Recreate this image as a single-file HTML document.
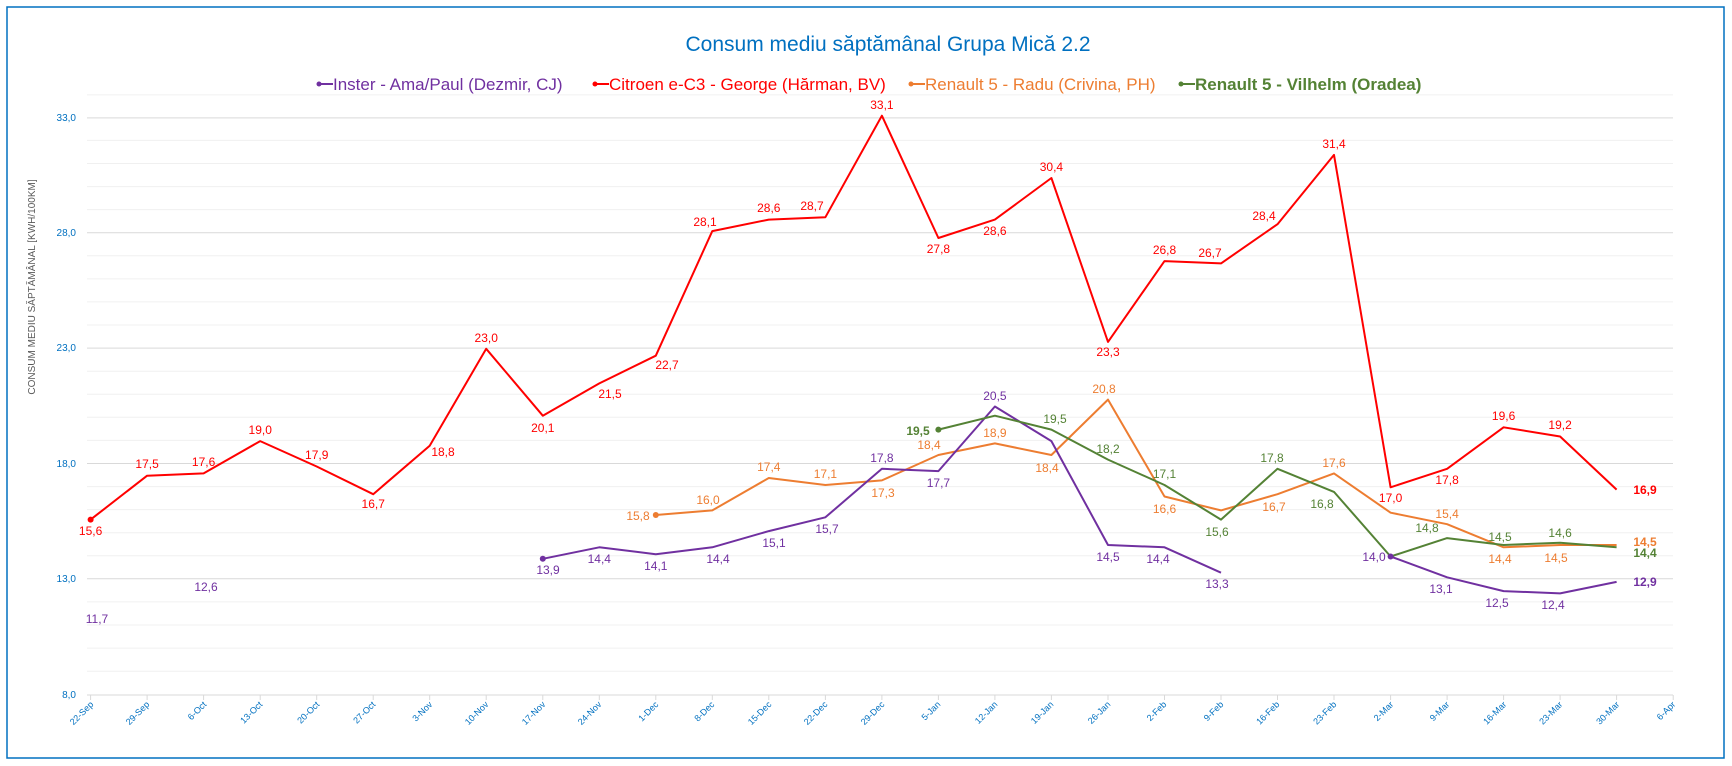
<!DOCTYPE html>
<html><head><meta charset="utf-8"><style>
html,body{margin:0;padding:0;background:#fff;}
svg{display:block;font-family:"Liberation Sans",sans-serif;}
.yl{font-size:10px;fill:#0070C0;text-anchor:end;}
.xl{font-size:9px;fill:#0070C0;text-anchor:end;}
.r{fill:#FF0000;font-size:12px;text-anchor:middle;}
.p{fill:#7030A0;font-size:12px;text-anchor:middle;}
.o{fill:#ED7D31;font-size:12px;text-anchor:middle;}
.g{fill:#548235;font-size:12px;text-anchor:middle;}
.b{font-weight:bold;}
</style></head><body>
<svg width="1732" height="766" viewBox="0 0 1732 766" xmlns="http://www.w3.org/2000/svg">
<rect x="7" y="7" width="1717" height="751" fill="#fff" stroke="#0070C0" stroke-width="1.5"/>
<text x="888" y="51" font-size="21" fill="#0070C0" text-anchor="middle">Consum mediu săptămânal Grupa Mică 2.2</text>
<g font-size="17">
<line x1="317" y1="84" x2="333" y2="84" stroke="#7030A0" stroke-width="2"/><circle cx="319" cy="84" r="2.5" fill="#7030A0"/>
<text x="333" y="90" fill="#7030A0">Inster - Ama/Paul (Dezmir, CJ)</text>
<line x1="593" y1="84" x2="609" y2="84" stroke="#FF0000" stroke-width="2"/><circle cx="595" cy="84" r="2.5" fill="#FF0000"/>
<text x="609" y="90" fill="#FF0000">Citroen e-C3 - George (Hărman, BV)</text>
<line x1="909" y1="84" x2="925" y2="84" stroke="#ED7D31" stroke-width="2"/><circle cx="911" cy="84" r="2.5" fill="#ED7D31"/>
<text x="925" y="90" fill="#ED7D31">Renault 5 - Radu (Crivina, PH)</text>
<line x1="1179" y1="84" x2="1195" y2="84" stroke="#548235" stroke-width="2"/><circle cx="1181" cy="84" r="2.5" fill="#548235"/>
<text x="1195" y="90" fill="#548235" font-weight="bold">Renault 5 - Vilhelm (Oradea)</text>
</g>
<text transform="translate(35,287) rotate(-90)" font-size="10" fill="#595959" text-anchor="middle">CONSUM MEDIU SĂPTĂMÂNAL [KWH/100KM]</text>
<g stroke="#f0f0f0" stroke-width="1">
<line x1="87" x2="1673" y1="94.9" y2="94.9"/><line x1="87" x2="1673" y1="140.4" y2="140.4"/><line x1="87" x2="1673" y1="163.5" y2="163.5"/><line x1="87" x2="1673" y1="186.6" y2="186.6"/><line x1="87" x2="1673" y1="209.6" y2="209.6"/>
<line x1="87" x2="1673" y1="255.8" y2="255.8"/><line x1="87" x2="1673" y1="278.9" y2="278.9"/><line x1="87" x2="1673" y1="301.9" y2="301.9"/><line x1="87" x2="1673" y1="325.0" y2="325.0"/>
<line x1="87" x2="1673" y1="371.2" y2="371.2"/><line x1="87" x2="1673" y1="394.2" y2="394.2"/><line x1="87" x2="1673" y1="417.3" y2="417.3"/><line x1="87" x2="1673" y1="440.4" y2="440.4"/>
<line x1="87" x2="1673" y1="486.6" y2="486.6"/><line x1="87" x2="1673" y1="509.6" y2="509.6"/><line x1="87" x2="1673" y1="532.7" y2="532.7"/><line x1="87" x2="1673" y1="555.8" y2="555.8"/>
<line x1="87" x2="1673" y1="601.9" y2="601.9"/><line x1="87" x2="1673" y1="625.0" y2="625.0"/><line x1="87" x2="1673" y1="648.1" y2="648.1"/><line x1="87" x2="1673" y1="671.2" y2="671.2"/>
</g>
<g stroke="#d9d9d9" stroke-width="1">
<line x1="87" x2="1673" y1="117.9" y2="117.9"/><line x1="87" x2="1673" y1="232.7" y2="232.7"/><line x1="87" x2="1673" y1="348.1" y2="348.1"/><line x1="87" x2="1673" y1="463.5" y2="463.5"/><line x1="87" x2="1673" y1="578.8" y2="578.8"/><line x1="87" x2="1673" y1="695" y2="695"/>
</g>
<g class="yl">
<text x="76" y="121">33,0</text><text x="76" y="236">28,0</text><text x="76" y="351">23,0</text><text x="76" y="467">18,0</text><text x="76" y="582">13,0</text><text x="76" y="698">8,0</text>
</g>
<g stroke="#d9d9d9">
<path d="M90.6 695v5M147.1 695v5M203.6 695v5M260.2 695v5M316.7 695v5M373.2 695v5M429.7 695v5M486.2 695v5M542.8 695v5M599.3 695v5M655.8 695v5M712.3 695v5M768.8 695v5M825.4 695v5M881.9 695v5M938.4 695v5M994.9 695v5M1051.4 695v5M1108 695v5M1164.5 695v5M1221 695v5M1277.5 695v5M1334 695v5M1390.6 695v5M1447.1 695v5M1503.6 695v5M1560.1 695v5M1616.6 695v5M1673.2 695v5"/>
</g>
<g class="xl">
<text transform="translate(94,705) rotate(-45)">22-Sep</text>
<text transform="translate(150,705) rotate(-45)">29-Sep</text>
<text transform="translate(207,705) rotate(-45)">6-Oct</text>
<text transform="translate(263,705) rotate(-45)">13-Oct</text>
<text transform="translate(320,705) rotate(-45)">20-Oct</text>
<text transform="translate(376,705) rotate(-45)">27-Oct</text>
<text transform="translate(433,705) rotate(-45)">3-Nov</text>
<text transform="translate(489,705) rotate(-45)">10-Nov</text>
<text transform="translate(546,705) rotate(-45)">17-Nov</text>
<text transform="translate(602,705) rotate(-45)">24-Nov</text>
<text transform="translate(659,705) rotate(-45)">1-Dec</text>
<text transform="translate(715,705) rotate(-45)">8-Dec</text>
<text transform="translate(772,705) rotate(-45)">15-Dec</text>
<text transform="translate(828,705) rotate(-45)">22-Dec</text>
<text transform="translate(885,705) rotate(-45)">29-Dec</text>
<text transform="translate(941,705) rotate(-45)">5-Jan</text>
<text transform="translate(998,705) rotate(-45)">12-Jan</text>
<text transform="translate(1054,705) rotate(-45)">19-Jan</text>
<text transform="translate(1111,705) rotate(-45)">26-Jan</text>
<text transform="translate(1167,705) rotate(-45)">2-Feb</text>
<text transform="translate(1224,705) rotate(-45)">9-Feb</text>
<text transform="translate(1280,705) rotate(-45)">16-Feb</text>
<text transform="translate(1337,705) rotate(-45)">23-Feb</text>
<text transform="translate(1394,705) rotate(-45)">2-Mar</text>
<text transform="translate(1450,705) rotate(-45)">9-Mar</text>
<text transform="translate(1507,705) rotate(-45)">16-Mar</text>
<text transform="translate(1563,705) rotate(-45)">23-Mar</text>
<text transform="translate(1620,705) rotate(-45)">30-Mar</text>
<text transform="translate(1676,705) rotate(-45)">6-Apr</text>
</g>
<g fill="none" stroke-width="2" stroke-linejoin="round">
<polyline stroke="#FF0000" points="90.6,519.6 147.1,475.7 203.6,473.4 260.2,441.1 316.7,466.5 373.2,494.2 429.7,445.7 486.2,348.8 542.8,415.7 599.3,383.4 655.8,355.7 712.3,231.1 768.8,219.6 825.4,217.2 881.9,115.7 938.4,238 994.9,219.6 1051.4,178 1108,341.9 1164.5,261.1 1221,263.4 1277.5,224.2 1334,154.9 1390.6,487.3 1447.1,468.8 1503.6,427.3 1560.1,436.5 1616.6,489.6"/>
<polyline stroke="#ED7D31" points="655.8,515 712.3,510.4 768.8,478 825.4,485 881.9,480.4 938.4,455 994.9,443.4 1051.4,455 1108,399.6 1164.5,496.5 1221,510.4 1277.5,494.2 1334,473.4 1390.6,512.7 1447.1,524.2 1503.6,547.3 1560.1,545 1616.6,545"/>
<polyline stroke="#7030A0" points="542.8,558.8 599.3,547.3 655.8,554.2 712.3,547.3 768.8,531.1 825.4,517.3 881.9,468.8 938.4,471.1 994.9,406.5 1051.4,441.1 1108,545 1164.5,547.3 1221,572.7"/>
<polyline stroke="#7030A0" points="1390.6,556.5 1447.1,577.3 1503.6,591.1 1560.1,593.4 1616.6,581.9"/>
<polyline stroke="#548235" points="938.4,429.6 994.9,415.7 1051.4,429.6 1108,459.6 1164.5,485 1221,519.6 1277.5,468.8 1334,491.9 1390.6,556.5 1447.1,538.1 1503.6,545 1560.1,542.7 1616.6,547.3"/>
</g>
<circle cx="90.6" cy="519.6" r="3" fill="#FF0000"/>
<circle cx="655.8" cy="515" r="3" fill="#ED7D31"/>
<circle cx="542.8" cy="558.8" r="3" fill="#7030A0"/>
<circle cx="1390.6" cy="556.5" r="3" fill="#7030A0"/>
<circle cx="938.4" cy="429.6" r="3" fill="#548235"/>
<g class="r">
<text x="90.6" y="535">15,6</text><text x="147.1" y="468">17,5</text><text x="203.6" y="466">17,6</text><text x="260.2" y="434">19,0</text><text x="316.7" y="459">17,9</text><text x="373.2" y="508">16,7</text><text x="443" y="456">18,8</text><text x="486.2" y="342">23,0</text><text x="542.8" y="432">20,1</text><text x="610" y="398">21,5</text><text x="667" y="369">22,7</text><text x="705" y="226">28,1</text><text x="768.8" y="212">28,6</text><text x="812" y="210">28,7</text><text x="881.9" y="109">33,1</text><text x="938.4" y="253">27,8</text><text x="994.9" y="235">28,6</text><text x="1051.4" y="171">30,4</text><text x="1108" y="356">23,3</text><text x="1164.5" y="254">26,8</text><text x="1210" y="257">26,7</text><text x="1264" y="220">28,4</text><text x="1334" y="148">31,4</text><text x="1390.6" y="502">17,0</text><text x="1447.1" y="484">17,8</text><text x="1503.6" y="420">19,6</text><text x="1560.1" y="429">19,2</text><text x="1645" y="494" class="b">16,9</text>
</g>
<g class="p">
<text x="97" y="623">11,7</text><text x="206" y="591">12,6</text><text x="548" y="574">13,9</text><text x="599.3" y="563">14,4</text><text x="655.8" y="570">14,1</text><text x="718" y="563">14,4</text><text x="774" y="547">15,1</text><text x="827" y="533">15,7</text><text x="881.9" y="462">17,8</text><text x="938.4" y="487">17,7</text><text x="994.9" y="400">20,5</text><text x="1108" y="561">14,5</text><text x="1158" y="563">14,4</text><text x="1217" y="588">13,3</text><text x="1374" y="561">14,0</text><text x="1441" y="593">13,1</text><text x="1497" y="607">12,5</text><text x="1553" y="609">12,4</text><text x="1645" y="586" class="b">12,9</text>
</g>
<g class="o">
<text x="638" y="520">15,8</text><text x="708" y="504">16,0</text><text x="768.8" y="471">17,4</text><text x="825.4" y="478">17,1</text><text x="883" y="497">17,3</text><text x="929" y="449">18,4</text><text x="994.9" y="437">18,9</text><text x="1047" y="472">18,4</text><text x="1104" y="393">20,8</text><text x="1164.5" y="513">16,6</text><text x="1274" y="511">16,7</text><text x="1334" y="467">17,6</text><text x="1447.1" y="518">15,4</text><text x="1500" y="563">14,4</text><text x="1556" y="562">14,5</text><text x="1645" y="546" class="b">14,5</text>
</g>
<g class="g">
<text x="918" y="435" class="b">19,5</text><text x="1055" y="423">19,5</text><text x="1108" y="453">18,2</text><text x="1164.5" y="478">17,1</text><text x="1217" y="536">15,6</text><text x="1272" y="462">17,8</text><text x="1322" y="508">16,8</text><text x="1427" y="532">14,8</text><text x="1500" y="541">14,5</text><text x="1560.1" y="537">14,6</text><text x="1645" y="557" class="b">14,4</text>
</g>
</svg>
</body></html>
